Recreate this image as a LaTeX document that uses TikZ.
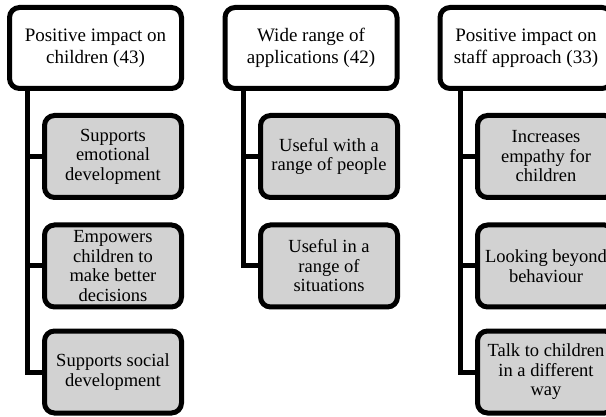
\documentclass[tikz,border=0pt]{standalone}
\usepackage{fontspec}
\setmainfont{Liberation Serif}
\definecolor{boxGray}{RGB}{210,210,210}

\begin{document}
\begin{tikzpicture}[x = 1pt, y = -1pt]
	\tikzstyle{headStyle}=[shape = rectangle, rounded corners = 10pt, draw, line width = 5pt, fill = white, minimum width = 172pt, minimum height = 81pt, inner sep = 2pt, align = center, font = \fontsize{19}{22}\selectfont]
	\tikzstyle{itemStyle}=[headStyle, fill = boxGray, minimum width = 137pt, minimum height = 82pt, font = \fontsize{18.5}{19.5}\selectfont]
	\tikzstyle{treeStyle}=[line width = 5pt]
	\useasboundingbox (0,0) rectangle (606,417);
	\node[headStyle] (h1) at (95.5, 48) {Positive impact on\\children (43)};
	\node[headStyle] (h2) at (311, 48) {Wide range of\\applications (42)};
	\node[headStyle] (h3) at (526, 48) {Positive impact on\\staff approach (33)};
	\node[itemStyle] (c11) at (113, 156.5) {Supports\\emotional\\development};
	\node[itemStyle] (c12) at (113, 266) {Empowers\\children to\\make better\\decisions};
	\node[itemStyle] (c13) at (113, 372) {Supports social\\development};
	\node[itemStyle] (c21) at (329, 156.5) {Useful with a\\range of people};
	\node[itemStyle] (c22) at (329, 266) {Useful in a\\range of\\situations};
	\node[itemStyle] (c31) at (546, 156.5) {Increases\\empathy for\\children};
	\node[itemStyle] (c32) at (546, 266) {Looking beyond\\behaviour};
	\node[itemStyle] (c33) at (546, 372) {Talk to children\\in a different\\way};
	\coordinate (t1) at (27, 88.5);
	\coordinate (t2) at (243, 88.5);
	\coordinate (t3) at (460, 88.5);
	\draw[treeStyle] (t1) |- (c11.west);
	\draw[treeStyle] (t1) |- (c12.west);
	\draw[treeStyle] (t1) |- (c13.west);
	\draw[treeStyle] (t2) |- (c21.west);
	\draw[treeStyle] (t2) |- (c22.west);
	\draw[treeStyle] (t3) |- (c31.west);
	\draw[treeStyle] (t3) |- (c32.west);
	\draw[treeStyle] (t3) |- (c33.west);
\end{tikzpicture}
\end{document}
